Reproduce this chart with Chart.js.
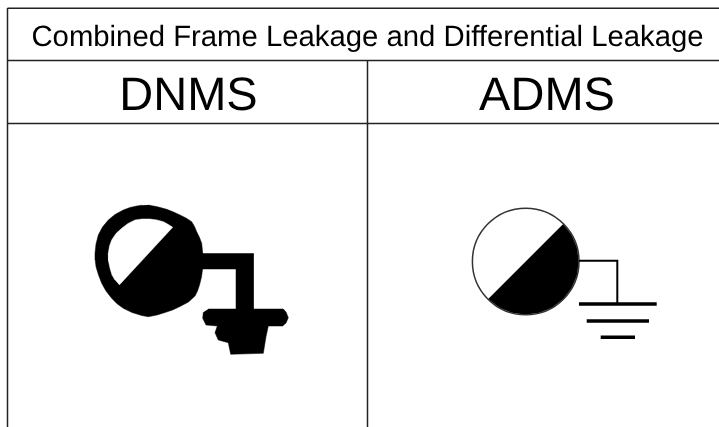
<!DOCTYPE html>
<html><head><meta charset="utf-8">
<style>html,body{margin:0;padding:0;background:#fff}#w{width:719px;height:427px;position:relative}</style>
<script src="https://cdn.jsdelivr.net/npm/chart.js@4"></script></head>
<body><div id="w"><canvas id="c" width="719" height="427"></canvas></div>
<script>
const titleText = ["Combined Frame Leakage and Differential Leakage"];
const columnLabels = ["DNMS", "ADMS"];
const tableLines = [
  [[7.5,8.2],[719,8.2]],
  [[7.5,60.5],[719,60.5]],
  [[7.5,123.5],[719,123.5]],
  [[7.5,8],[7.5,427]],
  [[367.5,60],[367.5,427]]
];
const dnmsDisc = [[148.3,205],[157.5,206.8],[166.7,209.3],[173.5,212],[180,215],[186,218],[191.7,221.7],[194.5,226.5],[196.7,231.7],[199.5,237.5],[201.7,243.3],[202.7,253.3],[202.7,268.3],[201.5,277],[199.5,285],[197.5,291],[195,296],[188.5,302],[180,306.5],[172.5,310],[165,312.5],[157,315],[148.3,316.7],[141.7,315.5],[132,312.5],[123.3,308.3],[117,303.7],[111.7,298.3],[106,291],[101.7,283.3],[98.5,275],[96,266.7],[95.2,260],[95,253.3],[96,244],[98.3,235],[102.5,227],[108.3,220],[115,214.5],[123.3,210],[130,207.5],[136.7,206],[142,205.2]];
const dnmsHole = [[119.3,285],[172.7,227.3],[167.5,224],[163.3,221.7],[157,220],[150,219],[142,219],[135,220],[128,223.5],[121.7,228.3],[116,233.5],[111.7,240],[109.5,246],[108.3,253.3],[108.5,261],[110,268.3],[112,275],[115,280]];
const dnmsWire = [[202,253.5],[253.3,253.5],[253.3,310],[236,310],[236,269],[202,269]];
const dnmsGround = [[208.3,309],[283.3,309],[286,312],[288.3,317.7],[286,323],[282.7,326],[268.3,326],[266,336.7],[263.3,353.3],[230.7,354.3],[228.3,342.7],[218.3,340],[215,332.7],[217.3,326],[206,325],[202.7,318.3],[203.3,312.3]];
const admsCentre = [[525.7,261.5]];
const admsHalf = [[563.2,224],[571.6,235],[576.9,247.8],[578.7,261.5],[576.9,275.2],[571.6,288],[563.2,299],[552.2,307.4],[539.4,312.7],[525.7,314.5],[512,312.7],[499.2,307.4],[488.2,299]];
const admsWire = [[579,260.7],[617.3,260.7],[617.3,303.5]];
const admsBars = [[[579,304],[656.7,304]],[[586.7,321],[649,321]],[[600.7,337.3],[635,337.3]]];

const pts = a => a.map(p => ({x:p[0], y:p[1]}));
const shape = (a, color) => ({data:pts(a), showLine:true, fill:'shape', backgroundColor:color, borderColor:color, borderWidth:0.5, pointRadius:0, tension:0});
const stroke = (a, w, color) => ({data:pts(a), showLine:true, fill:false, borderColor:color, borderWidth:w, pointRadius:0, tension:0, borderCapStyle:'butt', borderJoinStyle:'miter'});

const textPlugin = {
  id:'tableText',
  afterDraw(chart){
    const {ctx, scales:{x,y}} = chart;
    ctx.save();
    ctx.fillStyle='#000';
    ctx.textAlign='center';
    ctx.textBaseline='alphabetic';
    ctx.textRendering='geometricPrecision';
    ctx.font='29.3px "Liberation Sans"';
    ctx.fillText(titleText[0], x.getPixelForValue(367.5), y.getPixelForValue(45.5));
    ctx.font='47px "Liberation Sans"';
    ctx.fillText(columnLabels[0], x.getPixelForValue(188.5), y.getPixelForValue(110));
    ctx.fillText(columnLabels[1], x.getPixelForValue(547), y.getPixelForValue(110));
    ctx.restore();
  }
};

// Chart.js paints the first dataset last, so this list runs from top mark to bottom mark.
new Chart(document.getElementById('c'), {
  type:'scatter',
  data:{datasets:[
    ...admsBars.map(b => stroke(b,3.5,'#000')),
    stroke(admsWire,2,'#000'),
    {data:pts(admsCentre), pointRadius:53.3, pointHoverRadius:53.3, pointBackgroundColor:'rgba(0,0,0,0)', pointBorderColor:'#333', pointBorderWidth:1.5},
    shape(admsHalf,'#000'),
    shape(dnmsGround,'#000'),
    shape(dnmsWire,'#000'),
    shape(dnmsHole,'#fff'),
    shape(dnmsDisc,'#000'),
    ...tableLines.map(l => stroke(l, 1.5, '#222'))
  ]},
  plugins:[textPlugin],
  options:{
    responsive:false, animation:false, events:[],
    layout:{padding:0, autoPadding:false},
    plugins:{legend:{display:false}, tooltip:{enabled:false}, title:{display:false}},
    scales:{
      x:{type:'linear', min:0, max:719, display:false},
      y:{type:'linear', min:0, max:427, reverse:true, display:false}
    }
  }
});
</script></body></html>
